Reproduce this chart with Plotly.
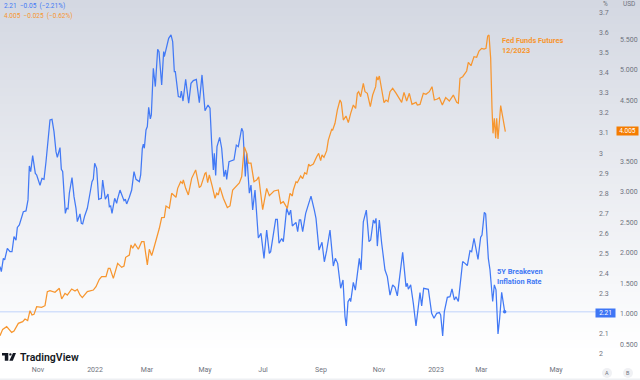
import plotly.graph_objects as go

W, H = 640, 380
AXIS_BOTTOM = 364
PLOT_RIGHT = 597

blue_session = [0,1,2.5,3.5,5.5,7.5,9,10.5,12,13,14.5,16,17.5,19.5,21,22,23,24.5,26.5,27.5,30,31.5,33,34.5,36,37.5,39,40.5,42,43,45,46,47,49,50,51,52,54,55.5,57,58,60,61,62,63.5,65.5,67.5,69,70,71,72.5,74,76,77,79,81,82,83,84,86,87.5,88,90,92,93,94,95,97,
98.75,100.5,102,104.5,105.5,106.75,107.5,108.25,109.5,110.5,111.5,112.75,113.5,115,115.75,116.5,118.25,119.25,121.25,122.75,123.25,125,126.5,128.25,129.5,130.75,131.5,133.75,135.25,136,137.25,139.25,140,141.5,143.25,145,147.25,148.75,149.5,151.5,153.75,156,157.5,158.75,160,160.75,161.75,162.75,164.75,166.25,168,169.25,170,171.75,175.5,177.25,178.75,181.25,182.25,184,185,187,188.25,189.5,191.25,193.75,
195.75,198,200,202,203,206.75,208,209.25,211.25,212.5,215,216.75,218,219.25,222,223.25,224.5,225.5,227,229.25,233.25,235.75,237,239.25,241.5,243.25,245,247.5,250,251.5,253.25,255.5,257.25,258.75,259.75,261,262.5,263,265,266.5,269.5,270.75,272.5,274.75,276.75,278,280,281,282,283,284.5,286.25,288.75,290.5,292.5,
294.5,296.25,298,300,302,304.5,305.5,306.25,308,310,312,315,316.25,317.75,321.25,323.75,325.5,327.5,329.5,330.5,332,333.25,335.5,337.5,339,340.75,342,343.75,347,348.75,350.5,352.5,353.75,355.5,358.5,360.5,361.5,363.25,364.25,366.25,367.5,369.5,370.75,372,373.5,374.75,376.25,378.5]
blue_value = [2.435,2.410,2.476,2.468,2.526,2.509,2.509,2.584,2.567,2.630,2.642,2.680,2.708,2.712,2.767,2.936,2.908,2.987,2.899,2.891,2.840,2.874,2.869,2.957,3.082,3.165,3.168,3.107,3.007,2.979,3.027,2.919,2.908,2.700,2.725,2.722,2.800,2.878,2.783,2.725,2.659,2.697,2.650,2.647,2.687,2.725,2.800,2.858,2.871,2.949,2.924,2.770,2.775,2.866,2.770,2.796,2.733,2.737,2.700,2.775,2.750,2.767,2.816,2.786,2.763,2.770,2.747,2.780,
2.816,2.908,2.869,2.858,2.891,3.024,3.045,3.024,3.115,3.132,3.228,3.170,3.190,3.422,3.372,3.331,3.517,3.505,3.339,3.505,3.480,3.522,3.571,3.588,3.555,3.405,3.405,3.281,3.278,3.309,3.259,3.367,3.322,3.248,3.347,3.361,3.367,3.264,3.251,3.389,3.211,3.239,3.223,3.049,2.916,2.999,2.888,3.032,3.078,3.024,2.883,2.916,2.869,2.957,2.966,3.040,3.032,3.123,3.107,2.883,2.999,2.800,2.841,2.717,2.816,2.577,
2.600,2.476,2.617,2.501,2.509,2.670,2.670,2.551,2.575,2.559,2.725,2.692,2.716,2.637,2.655,2.609,2.667,2.667,2.609,2.700,2.786,2.716,2.675,2.517,2.556,2.459,2.514,2.617,2.438,2.476,2.451,2.327,2.368,2.186,2.139,2.260,2.277,2.260,2.356,2.318,2.476,2.418,2.658,2.716,2.559,2.567,2.667,2.650,2.675,2.537,2.667,2.551,2.418,2.385,2.293,
2.344,2.332,2.289,2.410,2.506,2.335,2.352,2.322,2.344,2.252,2.139,2.305,2.239,2.327,2.322,2.202,2.178,2.202,2.206,2.194,2.090,2.211,2.282,2.285,2.324,2.269,2.285,2.261,2.460,2.451,2.440,2.514,2.509,2.576,2.471,2.581,2.592,2.705,2.697,2.476,2.418,2.261,2.344,2.319,2.100,2.178,2.307,2.210]

orange_session = [0,2,5,8.75,10.5,13.75,17,18.75,20.75,22.5,24,25.5,27.5,30,31.25,33.75,35.5,37.5,41.25,44.5,46.25,48.75,50.5,53.75,56.25,58,60,61.75,65.5,70,72,74.5,76.25,79.5,81.25,82.5,85,88.25,91.25,93,94.25,97,98.25,99.5,101.25,103.75,106.25,108,110.5,112,113.75,115,117.5,119.5,121.25,123.25,124.5,127,128.75,132,133.25,135.5,136.75,137.5,139.25,141.25,143.75,146.75,149.5,150.75,153.75,154.5,155.75,157,159.25,161.25,162.5,163.75,165,167.5,170.5,172.5,174.5,177,179.5,181.25,182.5,183.25,185,186.25,188.25,190.5,192.5,194,197,200,202,205.5,208.75,210.5,212.5,215.5,217.5,219.25,220,222,223,225.5,227,228.5,230,231.5,232.5,235,237.5,239,240.5,241.5,243,245,246.25,248.75,249.5,251.25,253,255,256,257.5,259.5,261.25,263,265,266.75,268,269,270.5,272.5,273.75,275.5,277.75,279.5,281.75,282.5,283.5,284.5,287,288,289.5,291,292.5,294.5,297,
300,301.25,303,305,307,309,312,313,315,317.5,319.5,322,324,325.75,328,329.5,331.75,334.25,337,340,342.5,343.75,345,347,350,351.25,353.25,355.5,357.5,359.25,361.25,363,364.5,365.75,366.75,368,369,369.75,370.75,371.75,372.5,373.5,375.5,377,378.25,379]
orange_value = [0.645,0.748,0.792,0.699,0.721,0.847,0.874,0.918,0.891,1.054,0.983,0.994,1.120,1.120,1.109,1.136,1.366,1.382,1.355,1.421,1.246,1.339,1.311,1.410,1.377,1.404,1.311,1.268,1.366,1.393,1.448,1.568,1.612,1.612,1.748,1.748,1.584,1.830,1.765,1.787,1.929,1.967,2.132,2.077,2.148,2.061,2.186,2.186,1.804,2.061,1.957,2.049,2.241,2.405,2.580,2.585,2.771,2.733,2.979,2.913,3.060,3.170,3.142,3.197,3.060,2.951,3.224,3.361,3.071,3.099,3.306,3.317,3.153,3.279,3.088,2.897,2.979,2.951,3.077,2.897,2.744,2.771,3.033,3.099,3.148,3.250,3.640,3.740,3.640,3.475,3.475,3.170,3.197,3.250,2.710,3.060,2.940,3.017,3.033,2.814,2.842,2.732,2.978,2.935,3.033,3.169,3.153,3.262,3.219,3.317,3.295,3.459,3.426,3.459,3.579,3.634,3.514,3.607,3.568,3.678,3.852,4.027,4.016,4.126,4.344,4.508,4.465,4.180,4.246,4.137,4.290,4.426,4.372,4.618,4.645,4.563,4.781,4.645,4.618,4.399,4.590,4.727,4.891,4.836,4.902,4.618,4.465,4.508,4.481,4.645,4.700,4.620,
4.508,4.470,4.634,4.492,4.618,4.437,4.470,4.426,4.437,4.618,4.601,4.645,4.727,4.508,4.525,4.547,4.426,4.547,4.492,4.590,4.470,4.454,4.864,4.891,4.984,5.126,5.071,5.219,5.208,5.312,5.355,5.345,5.355,5.558,5.574,5.192,4.372,3.962,4.208,3.880,4.208,3.869,4.416,4.208,4.016,3.989]

time_tick_session = [28.5,71.25,110.25,153.75,197.25,240.75,284.25,327,361,417]
time_tick_label = ["Nov","2022","Mar","May","Jul","Sep","Nov","2023","Mar","May"]
pct_ticks = [2,2.1,2.3,2.4,2.5,2.6,2.7,2.8,2.9,3,3.1,3.2,3.3,3.4,3.5,3.6,3.7]
usd_ticks = [0.5,1,1.5,2,2.5,3,3.5,4.5,5,5.5]
usd_tick_label = ["0.500","1.000","1.500","2.000","2.500","3.000","3.500","4.500","5.000","5.500"]

BLUE = "#4279f5"
ORANGE = "#f7962f"
GREY = "#6f737e"
FONT = "Roboto"


def px(x):
    return x / W


def py(y):
    return 1 - y / H


def lerp_colour(t):
    top = (212, 216, 226)
    bottom = (255, 255, 255)
    c = [round(a + (b - a) * t) for a, b in zip(top, bottom)]
    return f"rgb({c[0]},{c[1]},{c[2]})"


shapes = []
step = 4
for y in range(0, H, step):
    shapes.append(dict(type="rect", xref="paper", yref="paper", layer="below",
                       x0=0, x1=1, y0=py(y + step), y1=py(y), line_width=0,
                       fillcolor=lerp_colour(min(1, (y / 350)))))
shapes.append(dict(type="rect", xref="paper", yref="paper", layer="below", x0=0, x1=1,
                   y0=0, y1=py(378.5), line_width=0, fillcolor="#eef0f3"))
shapes.append(dict(type="line", xref="x domain", yref="y", x0=0, x1=1,
                   y0=blue_value[-1], y1=blue_value[-1],
                   line=dict(color="#d3e0fb", width=1.5), layer="below"))


def poly(points):
    return "M" + " L".join(f"{px(a):.5f},{py(b):.5f}" for a, b in points) + " Z"


LOGO = "#131722"
for pts in ([(2, 353), (8.3, 353), (8.3, 360.7), (4.8, 360.7), (4.8, 355.6), (2, 355.6)],
            [(13, 353), (16, 353), (12.8, 360.7), (9.3, 360.7)]):
    shapes.append(dict(type="path", xref="paper", yref="paper", path=poly(pts),
                       fillcolor=LOGO, line_width=0))
shapes.append(dict(type="circle", xref="paper", yref="paper", x0=px(9.2), x1=px(11.6),
                   y0=py(355.6), y1=py(353.2), fillcolor=LOGO, line_width=0))
for cx in (607, 628):
    shapes.append(dict(type="circle", xref="paper", yref="paper", x0=px(cx - 5), x1=px(cx + 5),
                       y0=py(378), y1=py(368), fillcolor="#f0f1f4", line_width=0))

fig = go.Figure()
fig.add_trace(go.Scatter(x=blue_session, y=blue_value, mode="lines", yaxis="y",
                         line=dict(color=BLUE, width=1.25), hoverinfo="skip"))
fig.add_trace(go.Scatter(x=orange_session, y=orange_value, mode="lines", yaxis="y2",
                         line=dict(color=ORANGE, width=1.25), hoverinfo="skip"))
fig.add_trace(go.Scatter(x=blue_session[-1:], y=blue_value[-1:], mode="markers", yaxis="y",
                         marker=dict(color=BLUE, size=3.5), hoverinfo="skip"))


def text(x, y, s, color=GREY, size=7, anchor="left", **kw):
    return dict(xref="paper", yref="paper", x=px(x), y=py(y), text=s, showarrow=False,
                xanchor=anchor, yanchor="middle", borderpad=0, align=anchor,
                font=dict(family=FONT, size=size, color=color, weight=kw.pop("weight", 400)), **kw)


annotations = [
    text(3, 6.5, "2.21  −0.05  (−2.21%)", BLUE, 6.5),
    text(3, 16.5, "4.005  −0.025  (−0.62%)", ORANGE, 6.5),
    text(501, 45, "Fed Funds Futures<br>12/2023", ORANGE, 7.4, weight=700),
    text(496, 276.5, "5Y Breakeven<br>Inflation Rate", BLUE, 7.4, weight=700),
    text(19, 357, "TradingView", LOGO, 10.5, weight=600),
    text(601.5, 4, "%", GREY, 6.5),
    text(622, 4, "USD", GREY, 6.5),
    text(605.5, 313, "2.21", "#ffffff", 6.5, "center", bgcolor="#3f76f5", width=19, height=8),
    text(627.5, 131, "4.005", "#ffffff", 6.5, "center", bgcolor="#f57c00", width=21, height=8),
    text(607, 373, "A", GREY, 5.5, "center"),
    text(628, 373, "B", GREY, 5.5, "center"),
]

bottom_frac = (H - AXIS_BOTTOM) / H
tick_font = dict(family=FONT, size=7, color=GREY)
fig.update_layout(
    width=W, height=H, autosize=False,
    margin=dict(l=0, r=0, t=0, b=0),
    paper_bgcolor="white", plot_bgcolor="rgba(0,0,0,0)",
    showlegend=False, shapes=shapes, annotations=annotations,
    xaxis=dict(domain=[0, PLOT_RIGHT / W], range=[0, PLOT_RIGHT * 0.75], showgrid=False,
               zeroline=False, showline=False, ticks="", tickmode="array",
               tickvals=time_tick_session, ticktext=time_tick_label, tickfont=tick_font,
               automargin=False, anchor="y", ticklabeloverflow="allow"),
    yaxis=dict(domain=[bottom_frac, 1], range=[1.950, 3.762], side="right", anchor="free",
               position=598 / W, showgrid=False, zeroline=False, showline=False,
               ticks="", tickmode="array", tickvals=pct_ticks,
               ticktext=[f"{v:g}" for v in pct_ticks], tickfont=tick_font, automargin=False),
    yaxis2=dict(domain=[bottom_frac, 1], range=[0.180, 6.148], side="right", overlaying="y",
                anchor="free", position=619 / W, showgrid=False, zeroline=False, showline=False,
                ticks="", tickmode="array", tickvals=usd_ticks, ticktext=usd_tick_label,
                tickfont=tick_font, automargin=False),
)
fig.write_html("out.html", config=dict(displayModeBar=False),
               post_script="document.body.style.margin='0';document.body.style.overflow='hidden';")
